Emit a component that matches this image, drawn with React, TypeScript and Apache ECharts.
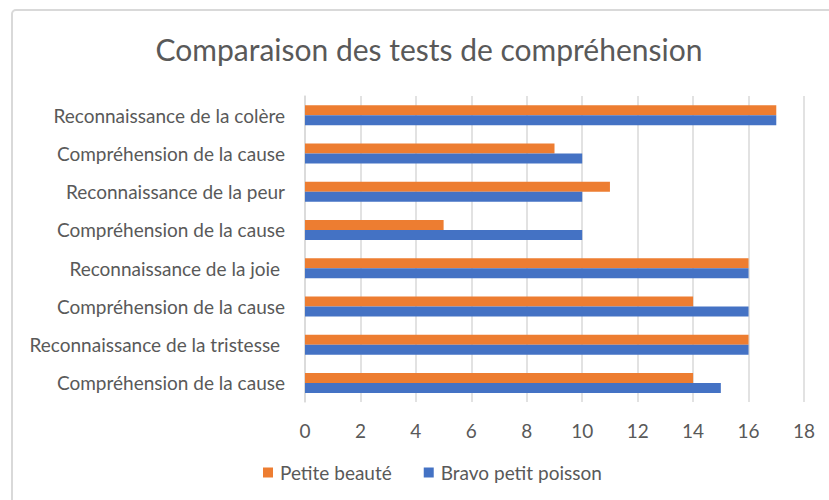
import React, { useEffect, useRef } from "react";
import * as echarts from "echarts";

const categories = [
  "Reconnaissance de la colère",
  "Compréhension de la cause",
  "Reconnaissance de la peur",
  "Compréhension de la cause",
  "Reconnaissance de la joie ",
  "Compréhension de la cause",
  "Reconnaissance de la tristesse ",
  "Compréhension de la cause",
];
const petiteBeaute = [17, 9, 11, 5, 16, 14, 16, 14];
const bravoPetitPoisson = [17, 10, 10, 10, 16, 16, 16, 15];
const seriesNames = ["Petite beauté", "Bravo petit poisson"];
const titleText = "Comparaison des tests de compréhension";

const FONT = "Lato, 'Open Sans', sans-serif";
const TEXT = "#595959";

export default function App() {
  const ref = useRef<HTMLDivElement>(null);
  useEffect(() => {
    if (!ref.current) return;
    const chart = echarts.init(ref.current, undefined, { renderer: "svg" });
    chart.setOption({
      animation: false,
      backgroundColor: "#ffffff",
      title: {
        text: titleText,
        left: 424,
        textAlign: "center",
        top: 29,
        textStyle: { fontFamily: FONT, fontSize: 30, fontWeight: "normal", color: TEXT },
      },
      graphic: [
        {
          type: "rect",
          shape: { x: 12, y: 10, width: 900, height: 600, r: 4 },
          style: { fill: "none", stroke: "#d9d9d9", lineWidth: 2 },
          silent: true,
        },
      ],
      legend: {
        bottom: 13,
        left: 258,
        itemWidth: 10,
        itemHeight: 10,
        itemGap: 32,
        icon: "rect",
        data: seriesNames,
        textStyle: { fontFamily: FONT, fontSize: 19, color: TEXT, padding: [0, 0, 0, 2] },
      },
      grid: { left: 305, right: 25, top: 96, bottom: 98, containLabel: false },
      xAxis: {
        type: "value",
        min: 0,
        max: 18,
        interval: 2,
        axisLine: { show: false },
        axisTick: { show: false },
        splitLine: { lineStyle: { color: "#d9d9d9", width: 1.5 } },
        axisLabel: { fontFamily: FONT, fontSize: 19, color: TEXT, margin: 19 },
      },
      yAxis: {
        type: "category",
        inverse: true,
        data: categories,
        axisLine: { show: true, lineStyle: { color: "#d9d9d9", width: 1.5 } },
        axisTick: { show: false },
        axisLabel: { fontFamily: FONT, fontSize: 19, color: TEXT, margin: 20 },
      },
      series: [
        {
          name: seriesNames[0],
          type: "bar",
          data: petiteBeaute,
          barWidth: 10,
          barGap: "0%",
          itemStyle: { color: "#ED7D31" },
        },
        {
          name: seriesNames[1],
          type: "bar",
          data: bravoPetitPoisson,
          barWidth: 10,
          barGap: "0%",
          itemStyle: { color: "#4472C4" },
        },
      ],
    });
    return () => chart.dispose();
  }, []);
  return (
    <div
      ref={ref}
      style={{ position: "absolute", left: 0, top: 0, width: 829, height: 500 }}
    />
  );
}
